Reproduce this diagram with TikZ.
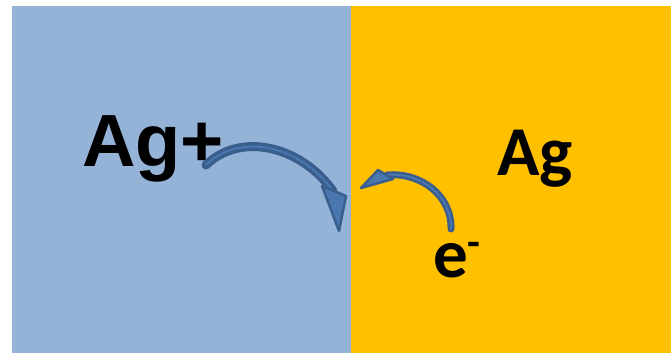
\documentclass[tikz,border=0pt]{standalone}
\usepackage{fontspec}
\newfontfamily\arialfont{Liberation Sans}
\newfontfamily\calfont{Carlito}
\definecolor{solblue}{HTML}{95B3D7}
\definecolor{metal}{HTML}{FFC000}
\definecolor{arrowedge}{HTML}{3A5E8E}
\definecolor{arrowfill}{HTML}{4A77B0}
\begin{document}
\begin{tikzpicture}[x=1pt,y=-1pt,
  label/.style={inner sep=0pt,outer sep=0pt,anchor=base west,text=black},
  shaftout/.style={draw=arrowedge,line cap=round},
  shaftin/.style={draw=arrowfill,line cap=round},
  headshape/.style={draw=arrowedge,fill=arrowfill,line width=2.5pt,line join=round}]
\useasboundingbox (0,0) rectangle (671,353);
\fill[white] (0,0) rectangle (671,353);
\fill[solblue] (12,6) rectangle (351,353);
\fill[metal] (351,6) rectangle (671,353);
% labels
\node[label,font=\arialfont\bfseries\fontsize{74}{74}\selectfont] (agp) at (82,166) {Ag+};
\node[label,font=\calfont\bfseries\fontsize{70}{70}\selectfont] (ag) at (497,175) {Ag};
\node[label,font=\calfont\bfseries\fontsize{69}{69}\selectfont] (el) at (433,277) {e\raisebox{21pt}{\fontsize{42}{42}\selectfont -}};
% left arrow
\coordinate (lt) at (206,165);
\coordinate (lh) at (333,191);
\draw[shaftout,line width=9pt] (lt) .. controls (240,132) and (300,145) .. (lh);
\draw[shaftin,line width=2pt] (lt) .. controls (240,132) and (300,145) .. (lh);
\coordinate (la) at (322,186);
\coordinate (lb) at (346,196);
\coordinate (lc) at (339,231);
\draw[headshape] (la) -- (lb) -- (lc) -- cycle;
% right arrow
\coordinate (rt) at (451,229);
\coordinate (rh) at (387,175);
\draw[shaftout,line width=7pt] (rt) .. controls (452,195) and (420,172) .. (rh);
\draw[shaftin,line width=1.8pt] (rt) .. controls (452,195) and (420,172) .. (rh);
\coordinate (ra) at (378,170);
\coordinate (rb) at (393,179);
\coordinate (rc) at (361,188);
\draw[headshape] (ra) -- (rb) -- (rc) -- cycle;
\end{tikzpicture}
\end{document}
